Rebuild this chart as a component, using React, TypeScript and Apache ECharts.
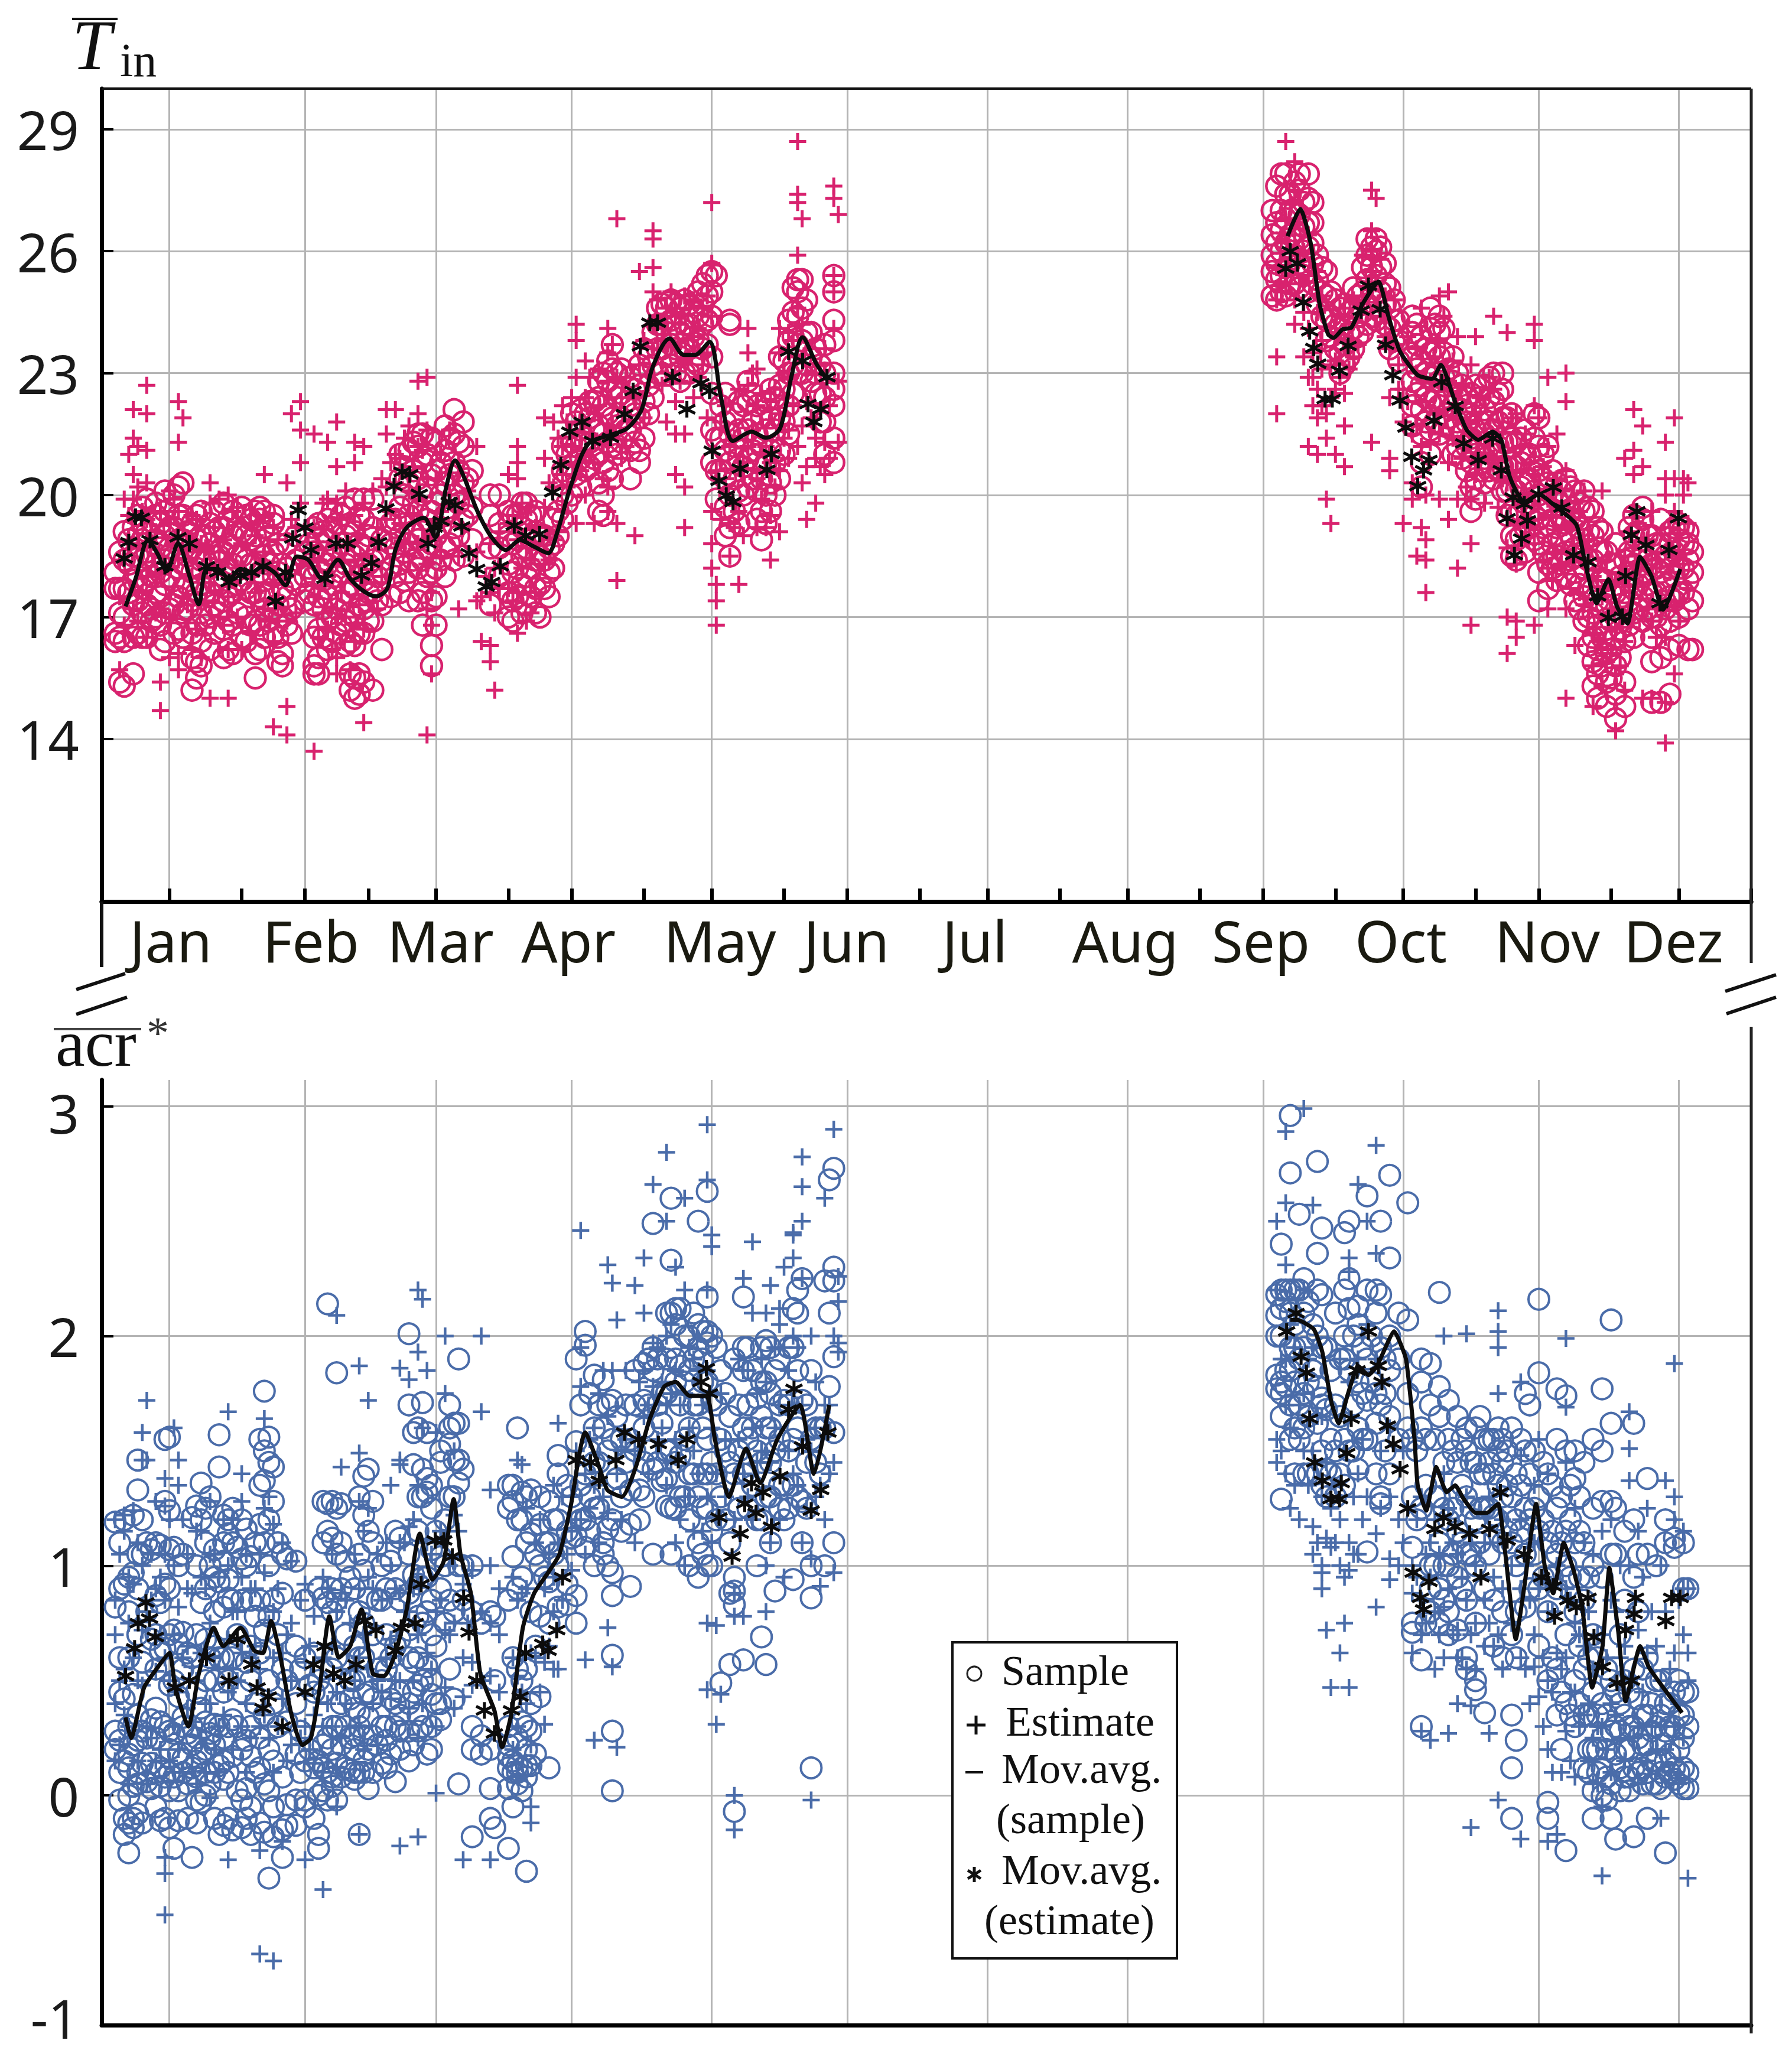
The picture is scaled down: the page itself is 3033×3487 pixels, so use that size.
import React, { useEffect, useRef } from "react";
import * as echarts from "echarts";

const monthNames = ["Jan", "Feb", "Mar", "Apr", "May", "Jun", "Jul", "Aug", "Sep", "Oct", "Nov", "Dez"];
const midMonthDays = [15, 45, 74, 104, 135, 165, 196, 227, 257, 288, 318, 349];
const monthStartDays = [31, 59, 90, 120, 151, 181, 212, 243, 273, 304, 334, 365];
const monthLabelDays = [15.3, 46.3, 75, 103.3, 136.8, 164.8, 193.2, 226.5, 256.5, 287.5, 319.9, 347.8];
const tinTicks = [14, 17, 20, 23, 26, 29];
const acrTicks = [-1, 0, 1, 2, 3];

// rows: [day, value, value, ...]
const tinSample: number[][] = [
[3,16.4,16.6,17.7,18.1],[4,15.4,16.5,17.1,17.7,18.6],[5,15.3,16.4,17,17.7,18.4,19.1],[7,15.6,16.5,17.3,17.9,18.5,19.2],[8,16.6,17.4,18,18.5,19,19.5],[9,16.5,17.1,17.7,18.4,18.9,19.3,19.7],[10,16.5,17.3,17.9,18.6,19.1,19.9],[12,17,17.6,18.3,18.9,19.5,19.8],[13,16.2,16.8,17.5,18.1,18.7,19.3],[14,16.4,17.1,17.8,18.4,19,19.6,20.1],[16,16.6,17.3,17.9,18.5,19.2,20],[17,16.7,17.5,18.2,18.9,19.5,20.2],[18,16.5,17.1,17.7,18.3,18.9,19.5,20.3],[20,15.2,16,16.6,17.4,18.1,18.7,19.3],[21,15.5,15.9,16.8,17.6,18.2,18.9,19.5],[22,15.8,16.4,17.1,17.8,18.4,19,19.6],[24,16.2,17,17.6,18.2,18.8,19.3],[25,16.6,17.3,17.9,18.5,19.1,19.6],[27,16,16.7,17.4,18,18.6,19.2,19.8],[28,16.2,16.9,17.5,18.2,18.8,19.4],[29,16.1,16.8,17.6,18.3,19,19.6],[31,16.5,17.2,17.9,18.5,19.1,19.7],[32,16.4,17,17.7,18.4,19,19.5],[34,15.5,16.1,16.9,17.6,18.3,19,19.6],[35,16.2,16.8,17.5,18.1,18.7,19.4,19.7],[36,16.5,17.2,17.9,18.5,19.2,19.6],[38,16.6,17.2,18,18.6,19.3,19.5],[39,15.9,16.5,17.3,18.1,18.8],[40,15.8,16.1,17,17.7,18.3],[42,16.6,17.2,17.9],[46,17.6,18.2,18.8],[47,15.6,15.8,16.5,17.3,18,18.6,19.2],[48,15.6,16,16.7,17.5,18.2,18.9,19.3],[50,16.2,16.9,17.5,18.3,18.9,19.4],[51,16.4,17,17.8,18.5,19.2,19.6],[53,16.8,17.4,18.1,18.8,19.5],[54,16.3,16.9,17.6,18.3,19,19.7],[55,15.2,15.6,16.4,17.1,17.8,18.6,19.3],[56,15,15.5,16.3,17,17.7,18.5,19.1,19.9],[57,15.1,15.6,16.6,17.3,18,18.8,19.5],[58,15.4,16.6,17.2,17.9,18.7,19.4,19.9],[60,15.2,16.9,17.6,18.4,19.2,19.9],[62,16.2,17.3,18.1,18.9],[64,17.5,18.2,18.8,19.3],[66,17.6,18.3,19,19.7,20.4,21],[68,17.4,18.1,18.8,19.5,20.3,21.1],[70,17.4,18.2,18.9,19.6,20.4,21.2,21.5],[71,16.8,17.6,18.4,19.1,20,20.8,21.5],[73,15.8,16.3,17.4,18.1,18.8,19.6,20.5,21.4],[74,16.8,17.5,18.2,19,19.8,20.6,21.3],[76,18,18.7,19.5,20.3,21.1,21.7],[78,18.4,19.2,20,20.8,21.5,22.1],[80,18.5,19.4,20.3,21.2,21.8],[82,18.9,19.7,20.6],[86,17.3,18.7,19.5,20],[88,18,18.7,19.3,20],[90,17,17.6,18.3,19,19.6],[91,16.9,17.4,18.1,18.8,19.5],[93,17.1,17.8,18.5,19.2,19.8],[94,17.3,18,18.7,19.4,19.8],[96,17.1,17.7,18.4,19.1,19.6],[97,17,17.8,18.5,19],[99,17.5,18.1,18.7],[100,18.2,18.8,19.4],[102,19.4,20,20.6,21.2],[104,20,20.7,21.3,22],[106,20.2,20.9,21.6,22.1],[108,20.7,21.3,21.9,22.3],[110,19.6,20.3,21,21.7,22.4,22.8],[111,19.5,20,20.8,21.5,22.2,23],[113,20.4,21.2,21.9,22.6,23.1,23.7],[115,21.3,21.9,22.5,23.1],[117,20.4,21.1,21.6,22.2,22.9],[119,20.8,21.1,21.9,22.7,23.2],[120,21.4,22.3,23,23.6],[122,22.4,23.2,24],[124,23,23.6,24.2,24.7],[126,23.2,23.7,24.3,24.8],[128,22.8,23.4,24,24.6],[130,23,23.6,24.2,24.7],[132,23.2,23.8,24.4,25],[133,23.6,24.2,24.7,25.2],[134,23.7,24.3,24.9,25.4],[135,20.8,21.6,22.5,23.4,24.4,25,25.5],[136,19.9,20.6,21.4,25.4],[138,19,19.7,20.4,21.1,21.8,22.5],[139,18.5,19.2,20,20.8,21.5,24.2,24.3],[141,19.3,20.1,20.9,21.6,22.3],[143,20.2,20.9,21.6,22.3,22.8],[145,19.4,20.1,20.8,21.5,22.2],[146,18.9,19.6,20.4,21.2,21.9],[148,19.6,20.3,21.1,21.9,22.6],[150,20.4,21.1,21.9,22.7,23.4],[152,21.5,22.2,23,23.8,24.3],[153,22.5,23.2,23.9,24.5,25.1],[154,23,23.7,24.4,25,25.3],[155,23,23.8,24.6,25.3],[156,23.2,24,24.8],[158,22.5,23,23.6],[160,21,21.8,22.4,23,23.7],[162,20.8,21.4,22.2,22.6,23,23.8,24.3,25,25.4],
[259,24.9,25.5,25.9,26.4,27],[260,24.8,25.3,25.7,26.2,26.7,27.6],[261,25,25.4,26,26.5,27,27.9],[262,24.9,25.6,26.2,26.8,27.4,27.9],[264,25.2,25.9,26.5,27,27.7],[265,25.1,25.7,26.3,26.9,27.5,27.9],[267,25,25.5,26.1,26.7,27.3,27.9],[268,25.2,25.7,26.2,26.7,27.2],[269,24.7,25.3,25.9],[271,23.8,24.3,24.9,25.5],[272,23.4,23.9,24.4,25],[274,23,23.5,24.1,24.6],[275,23.2,23.7,24.2,24.7],[277,23.6,24.1,24.6,25.1],[279,24,24.5,25,25.6],[280,24.2,24.7,25.3,25.9,26.3],[282,24.3,24.8,25.4,26,26.3],[284,24.2,24.7,25.2,25.7],[285,23.6,24.1,24.6,25.1],[287,23.3,23.8,24.3],[290,21.7,22.2,22.8,23.4,24,24.4],[292,20.2,20.8,21.5,22.1,22.7,23.3,23.9],[294,21,21.6,22.3,22.9,23.5,24.1,24.6],[296,21.5,22.2,22.8,23.4,24,24.4],[297,21.7,22.3,22.9,23.5,24.1],[299,21,21.6,22.2,22.8,23.4],[301,20.9,21.5,22.1,22.7],[303,19.6,20.2,20.8,21.4,22,22.5],[304,19.9,20.4,21,21.6,22.2,22.7],[306,20.3,20.9,21.5,22.1,22.7],[308,20.4,21,21.6,22.3,23],[310,20.1,20.7,21.3,21.9,22.6,23],[312,18.5,19,19.6,20.2,20.8,21.4,22],[313,18.4,18.9,19.5,20.1,20.7,21.3],[315,18.6,19.2,19.8,20.4,21,21.6],[317,18.9,19.5,20.1,20.7,21.4,22],[318,17.4,18.1,18.8,19.4,20,20.6,21.2,21.9],[320,17.7,18.3,19,19.7,20.3,21.2],[322,17.9,18.5,19.2,19.9,20.3],[324,18,18.6,19.3,19.9,20.4],[326,17.4,18.1,18.7,19.4,20.1],[328,16.9,17.5,18.2,18.9,19.6,20.1],[330,15.3,15.9,16.5,17.1,17.7,18.4,19,19.6],[331,15,15.6,16.2,16.8,17.4,18,18.7,19.2],[333,14.8,15.4,16.1,16.7,17.3,17.9,18.6],[335,14.5,15.1,15.8,16.5,17,17.6,18.3,18.8],[337,14.8,15.4,16.4,17,17.6,18.4],[339,16.5,17.1,17.7,18.3,19,19.5],[341,16.9,17.5,18.1,18.7,19.4,19.7],[343,14.9,15.9,16.5,17,17.6,18.3,19],[345,14.9,16,16.8,17.4,18.1,18.8,19.4],[347,15.1,16.2,16.9,17.5,18.2,18.8,19.1],[349,16.3,17,17.6,18.2,18.9,19.3],[351,16.2,17.2,17.9,18.4,18.8,19.1],[352,16.2,17.4,18.1,18.6],
[6,17.6,18.3,18.9],[11,18,18.5,17.2,16.9],[15,17.2,18,18.7,19.2],[19,17.2,17.8,18.5,19.1],[23,16.8,17.6,18.4,19],[26,17.1,17.8,18.5,19.2],[30,17.1,17.8,18.5,19.2],[33,16.8,17.6,18.3,18.9,19.4],[37,16.9,17.6,18.3,19],[41,16.8,17.5,18.2,18.8],[43,17.8,18.4,19],[45,17.4,18,18.6],[49,16.5,17.2,17.9,18.6,19.1],[52,16.6,17.2,18,18.7,19.3],[59,16.9,17.6,18.3,19],[61,17.4,18,18.6],[65,18,18.7,19.4],[67,17.9,18.6,19.3,20,20.7],[69,18.4,19.1,19.8,20.6,21.3],[72,18,18.7,19.4,20.2,21],[75,18.4,19.2,20,20.8],[77,18.8,19.6,20.5,21.4],[79,19,19.8,20.6,21.3],[81,19.5,20.4],[92,17.5,18.2,18.9,19.5],[95,17.5,18.2,18.9,19.5],[98,17.7,18.4,19],[101,19,19.6],[103,19.8,20.5,21],[105,20.5,21.2,21.8],[107,20.6,21.3,22],[109,20.9,21.6,22.3],[112,20.6,21.3,22,22.8,23.3],[114,21,21.7,22.4,23],[116,21.6,22.3],[118,21.3,22,22.6],[121,22,22.7,23.4],[123,23,23.6,24.2,24.6],[125,23.4,24,24.6],[127,23,23.6,24.2,24.7],[129,23,23.6,24.2,24.8],[131,23.3,23.9,24.5],[137,20.6,21.4,22.2],[140,19.6,20.4,21.2,22],[142,20,20.7,21.4,22.2],[144,20.4,21.1,21.8,22.5],[147,19.3,20,20.8,21.6,22.3],[149,20,20.8,21.6,22.4],[151,21,21.8,22.6,23.3],[157,22.8,23.4,24],[159,21.8,22.5,23.2],
[263,25.2,25.8,26.4,27,27.4],[266,25.4,26,26.6,27.2],[270,24.4,25,25.6],[273,23.6,24.2,24.8],[276,23.4,24,24.5],[278,23.9,24.4,24.9],[281,24.4,25,25.6,26.1],[283,24.5,25,25.6,26.1],[286,23.8,24.3,24.8],[291,22.5,23.1,23.7,24.2],[293,21.8,22.4,23,23.6],[295,21.8,22.4,23,23.6,24.2],[298,21.9,22.5,23.1],[300,21.2,21.8,22.4,23],[302,20.6,21.2,21.8,22.4],[305,20.6,21.2,21.8,22.4],[307,20.6,21.2,21.8,22.4,22.9],[309,20.6,21.2,21.8,22.5],[311,19.5,20.1,20.7,21.3,21.9],[314,19,19.6,20.2,20.8,21.4],[316,19.2,19.8,20.4,21],[319,18.6,19.2,19.8,20.4,21],[321,18.2,18.8,19.4,20,20.6],[323,18.3,18.9,19.5,20.1],[325,17.8,18.4,19,19.6,20.2],[327,17.2,17.8,18.5,19.2,19.8],[329,16.3,17,17.7,18.4,19.1,19.7],[332,15.8,16.5,17.2,17.9,18.6,19.1],[334,15.5,16.2,16.9,17.6,18.3],[336,16,16.7,17.3,18],[338,16.8,17.4,18,18.6,19.2],[340,17.2,17.8,18.4,19.1],[342,17.2,17.8,18.4,19],[344,17,17.6,18.2,18.8],[346,17.2,17.8,18.5],[348,17.4,18,18.6,19.2],[350,17.6,18.2,18.8,19.2]];

const tinEstimate: number[][] = [
[4,15.7,17.5,18.4],[6,21,18.9,19.5],[7,22.1,21.4,20.5,19.9,17.2],[8,21.2,20.2,18.8,16.9],[10,22.7,22,21.1,20.3,19.4,18,16.5],[13,14.7,15.4,17.2,18.5,19.6],[15,16,17,18.2,19.3,20.1],[17,22.3,21.3,16.1,15.7,19.6,18.4],[18,21.9,17.5,19],[20,19.5,18,16.2],[22,18.8,17.3,16],[24,20.3,15,19.8,18.2],[26,19.9,18.6,17],[28,15,20,18.4,17.5,16.2],[30,19.7,18.2,17],[33,19.3,18,16.6],[36,20.5,19.5,18.6,17.2],[38,14.3,19.2,17.8,16.4],[41,14.1,14.8,20.3,18,16.9],[42,22,19.4],[44,22.3,21.6,20.8,19.8,18.3],[47,13.7,21.5,19.2,17.5],[50,21.3,19.9,18,16.7],[52,21.8,20.7,15.6,19.8,17.2,16],[54,20.1,18.7,17],[56,21.3,20.8,19.5,18.4,16.4],[58,14.4,21.2,19.8,17.9,16.7],[61,18.8,19.2,17.2],[63,22.1,21.5,20.2,19.4],[65,22.1,21,20.3,18.7],[68,21.7,20.1,18.5],[70,22.8,22,21.2,19.9,18.8],[72,22.9,14.1,21.6,20.4,18.3,17.2],[73,15.6,16.8,17.6,19],[75,21,19.6,18.5],[79,17.2,18.5,19.8,20.8],[83,17.4,18.6,21.2],[84,16.4,17.5],[86,15.9,16.3,17.6,18.8],[87,15.2,17.1,18.2],[90,20.5,19.3,17.7],[92,22.7,21.2,20.8,20.4,16.6,17.6,18.9],[95,19.7,18.4,17.1],[98,21.9,20.9,19.7,18.3],[100,21.8,20.2,18.9],[102,22.2,21.2,20.5,19.6],[105,24.2,23.8,22.9,21.6,19.3,20.8],[107,23.3,22.4,21,20],[109,19.3,22,20.8],[112,24.1,23.5,22.8,21.4,20.2,19.6],[114,26.8,17.9,19.3,22.9],[118,19,22.4],[119,25.5,23.2],[122,26.5,26.3,25.6,25,24.2],[125,21.8,23,24.6],[127,24.5,21.5,20.5,22.3],[129,21.5,20.2,19.2,24.9,23.3],[131,24.8,23.9,22.4],[134,24.9,23.5,21.9],[135,27.2,25.7,18.8,18.2,19.6,24.4],[136,17.8,17.4,16.8,20.6],[139,18.5,19.3,21.2],[141,17.8,19.6,20.7,22.6],[143,24.1,23.5,22.7,21.2],[145,19.2,20.4,22.2,23.1],[148,18.4,19.5,20.8,22.3],[150,24.1,23.5,19.1,20.6,22],[152,24,22.9,20.9,21.6],[154,28.7,27.4,27.2,25.9,24.6,23.4,21.2],[155,26.8,20.3,21.7,24.2],[156,19.4,20.7,22.3],[158,19.8,20.9,21.4,23],[160,20.5,21.3,23.6],[162,27.6,27.3,25.4,25,24.1],[163,26.9,21.3,22.8],
[260,23.4,22,25.6,24.8],[262,28.7,26.8,25.2],[264,28.2,24.2,24.8,26.4,27.5],[266,24.5,23.4,26],[267,22.9,21.2,24.1],[268,22.2,22.9,23.5],[269,21,22.6,21.9],[270,22.2,23.1],[271,19.9,22,21.4],[272,19.3,22.4,23.2],[273,21,22.6],[275,21.7,22.5,20.7,23.8,24.6],[277,24.8,23.4],[281,27.5,26.5,26,21.3,25.5],[282,27.3,25.2],[284,23.9,24.9],[285,20.9,20.6,22.4,23.6],[288,19.3,21.8,22.6],[290,20.3,19.9,21.5],[291,18.5,23],[292,19.2,24.6,21.2],[293,18.9,18.4,17.6,20,22.3],[296,24.9,23.8,21.5,19.9],[298,19.4,25,22.8,20.8],[300,18.2,23.9,21.9,19.9],[303,16.8,18.8,19.9,21.5,23.2],[304,23.9,22,20.5],[308,24.4,22.6,20.9],[309,21.5,19.7],[311,24,17,20.3,18.7,16.1],[313,16.9,16.5,18.3,20.6,22],[315,19.3,21.5],[317,16.8,24.2,23.8,18.8,20.5,22.2],[320,22.9,17.2,19.9,18.2,21.2],[322,21.5,18.6,20.4],[324,23,22.3,15,17.2,19.2,20.6],[326,16.3,18.4,19.8],[328,17.3,20.1,18.9],[330,14.8,15.8,16.6,18],[332,20.1,15.3,16.2,17.5],[335,14.2,15.6,16.7,17.9],[337,20.9,15.2,16.4,18.5],[339,22.1,21.1,20.5,19.6,18.7],[341,21.7,20.7,15,17.8],[343,19.6,18.4,15,16.9],[346,21.3,20.4,20,13.9,14.9,16.5,18.6],[348,21.9,20.4,15.6,17.3,19.6],[350,20.4,20,18.3],[351,20.3,19.3,17.7],
[5,16.8,19.9],[9,17.6,19.6],[12,17.1,18.1,19.1],[16,18.8,19.9],[19,17.3,18.6],[21,16.7,19.4],[23,18.7,17.4],[25,17.6,19.2],[27,16.8,18.9],[29,17.9,19.6],[31,16.2,18.8],[34,17.6,19],[37,18.2,16.9],[39,18.9,17.2],[43,17.1,19.2],[48,16.5,18.4],[49,19.8,17.1],[51,18.3,16.2],[53,19.4,17.6],[55,18.1,15.7],[57,19,17.3],[60,20.1,18.3],[62,18,20.4],[64,19.6,20.8],[66,20.9,19.3],[67,21.4,18.8],[69,20.7,19.5],[71,21.1,18.9],[74,20.4,19.4],[77,21.6,20],[81,20.1],[85,18],[88,19.1,17.7],[91,17.4,19.5],[93,18.2,19.8],[94,16.9,18.7],[96,19.2,17.6],[99,20.3,18.4],[101,19.1,21.4],[103,20.2,21.8],[104,21.2,22.4],[106,21.8,20.6],[108,21.5,22.9],[110,22.2,23.1],[111,21.3,20.4],[113,21.7,23.7],[115,22.4,20.9],[116,21.2,22.9],[120,21.9,23.8],[123,23.6,24.8],[124,22.7,24.1],[126,23.7,25],[128,24.2,22.8],[130,23.4,24.6],[132,24.1,22.9],[133,24.6,23.2],[137,21.8,19.4],[138,20.4,22.2],[140,21.4,19.2],[142,20.8,19],[144,21.6,23],[146,19.9,22.5],[147,21.2,19.2],[149,20.2,22.6],[151,23,21.4],[153,23.8,22.2],[157,23.6,21.9],[159,23.2,20.7],[161,22.2,20.9],
[261,26.3,25],[263,27.2,25.8],[265,26.7,25.2],[267,25.4,26.4],[269,24.5,25.5],[270,23.8,24.9],[273,24,23.3],[274,24.6,22.9],[276,24.2,23.1],[278,24.6,23.7],[279,24.9,25.9],[283,25.8,24.4],[286,23.7,24.8],[287,23.2,22.6],[289,22.3,23.9],[291,21.7,23.6],[294,22.8,21.3],[295,23.4,22],[297,24.4,22.1],[299,23.3,21.4],[301,22.7,20.9],[302,21.8,20.2],[305,20.8,22.4],[306,21.4,19.8],[307,22.9,21],[310,21.8,20.4],[312,21.9,20.6],[314,19.9,21.2],[316,20.8,19.2],[318,21.9,19.4],[319,20.7,18.4],[321,19.5,17.9],[323,20.1,18.3],[325,19.3,17.7],[327,19.6,17.6],[329,18.9,17],[331,17.9,16.4],[333,18.4,15.9],[334,17.2,16.1],[336,18.1,15.8],[338,17.6,19.1],[340,18.3,19.3],[342,18.9,17.2],[344,18.2,16.5],[347,18.1,19.2],[349,18.5,16.9]];

const tinAvgSample: number[][] = [[5.3,17.26],[7.5,17.94],[10.3,18.89],[12.3,18.57],[14.4,18.13],[16.9,18.81],[19.4,18.02],[21.5,17.31],[23.2,18.18],[25.7,18.18],[28.2,17.94],[30.7,18.18],[33.2,18.1],[35.7,18.25],[38.2,18.1],[40.7,17.78],[43.2,18.49],[45.7,18.41],[48.8,17.94],[52.3,18.41],[55,17.94],[58.2,17.62],[60.7,17.51],[63.2,17.7],[65,18.65],[67.5,19.2],[71.3,19.44],[73.8,18.96],[76.3,20.22],[78.2,20.85],[80.1,20.46],[83.2,19.59],[86.3,18.96],[89.4,18.65],[92.6,18.89],[95.7,18.73],[98.8,18.57],[100.7,19.04],[103.8,20.22],[107.6,21.25],[112.6,21.48],[116.3,21.64],[119.5,22.11],[121.9,23.14],[125.7,23.85],[128.8,23.45],[131.3,23.45],[134.5,23.77],[137,22.43],[139.7,21.33],[143.8,21.56],[147,21.41],[150.1,21.64],[152.6,22.9],[155.1,23.88],[158.2,23.22],[160.7,22.82]];
const tinAvgSampleFall: number[][] = [[262.4,26.37],[265.2,27.04],[267.5,26.21],[269.5,24.7],[271.4,23.95],[272.6,23.87],[274.6,24.08],[276.5,24.12],[279,24.7],[282.5,25.25],[284.8,24.37],[287.3,23.53],[291.2,22.95],[294.4,22.86],[296.3,23.2],[299.5,22.28],[302,21.61],[304.6,21.36],[307.8,21.56],[309.7,21.36],[311.6,20.44],[314.8,19.82],[318,20.02],[321.2,19.77],[326.3,19.27],[328.2,18.35],[330.8,17.34],[333.4,17.93],[335.3,17.26],[337.6,16.84],[340.4,18.48],[342.9,18.01],[345.5,17.18],[349.3,18.18]];
const tinAvgEstimate: number[][] = [[5,18.44],[6,18.84],[7.5,19.47],[8.8,19.44],[10.7,18.89],[14,18.25],[16.9,18.96],[19.4,18.81],[23.2,18.25],[25.7,18.1],[28.2,17.86],[30.7,18.02],[33.2,18.1],[35.7,18.25],[38.5,17.39],[40.7,18.1],[42.3,18.93],[43.5,19.63],[45,19.2],[46.3,18.65],[49.4,17.94],[51.9,18.81],[54.4,18.81],[57.5,18.02],[59.7,18.33],[61.3,18.84],[62.9,19.67],[64.7,20.22],[66.5,20.57],[68.2,20.51],[70.3,20.03],[72.2,18.81],[73.6,19.2],[75.1,19.36],[76.9,19.83],[78.2,19.75],[79.7,19.23],[81.3,18.57],[83,18.18],[85.1,17.75],[86.3,17.86],[88.2,18.25],[91.3,19.25],[93.8,19],[96.9,19.04],[99.8,20.07],[101.6,20.74],[103.6,21.56],[106.3,21.8],[108.6,21.33],[112.6,21.41],[115.7,21.99],[117.6,22.56],[119.2,23.66],[121.3,24.24],[123,24.24],[126.3,22.9],[129.5,22.11],[132.6,22.75],[134.5,22.56],[135.1,21.09],[136.6,20.35],[138.2,19.99],[139.7,19.83],[141.3,20.65],[147.2,20.62],[148.2,21.01],[152,23.53],[155.1,23.3],[156.3,22.24],[157.6,21.8],[159.1,22.11],[160.5,22.9],
[262,25.57],[263,26],[264.6,25.7],[265.9,24.74],[267.3,24.03],[268.2,23.62],[269.1,23.23],[270.7,22.36],[272.3,22.36],[273.9,23.06],[275.8,23.67],[278.7,24.54],[280.3,25.15],[282.9,24.57],[284.1,23.7],[285.7,22.95],[287.3,22.33],[288.6,21.66],[289.9,20.94],[293.7,20.86],[292.5,20.61],[291.2,20.22],[294.8,21.83],[296.5,22.78],[299.5,22.19],[301.4,21.27],[304.6,20.86],[307.8,21.39],[309.7,20.61],[312.3,19.94],[314.8,19.77],[318,20.02],[321.2,20.19],[323.1,19.69],[311,19.43],[315.5,19.38],[314.2,18.93],[312.6,18.52],[325.7,18.52],[328.9,18.35],[331,17.51],[333.4,16.98],[336.5,17.01],[337.2,18.01],[338.5,19.02],[339.7,19.6],[341.7,18.77],[344.8,17.34],[346.8,18.65],[348.9,19.43]];

const acrSample: number[][] = [
[3,1.19,.82,.28,.2],[4,1.1,.6,.24,.1,-.02],[5,1.2,.92,.42,.15,-.1,-.17],[6,.95,.6,.3,.12,0,-.12,-.25],[7,1.22,.97,.44,.22,.04,-.1,-.14],[8,1.46,1.33,1.05,.7,.24,.05,-.08],[9,1.2,1.05,.58,.28,.14,-.12],[11,1.07,.68,.33,.14,.03],[12,1.1,.87,.55,.25,.1],[13,1.09,.84,.63,.32,.12,.04,-.11],[14,1.55,1.28,.92,.64,.3,.08,-.1],[15,1.56,1.24,1.07,.9,.48,.28,.1,-.14],[16,1.08,.72,.5,.27,.08,-.23],[17,1,.66,.43,.18,.02,-.11],[18,.71,.34,.3,.16],[19,.62,.27,.05,-.1],[20,1.21,.6,.3,.22,.12,-.27],[21,1.26,.7,.45,.25,-.02,-.12],[22,1.36,1.2,.84,.38,.18,-.03],[23,1.25,.9,.68,.32,.2,0],[24,1.3,1,.6,.27,.25,.05],[25,1.07,.8,.5,.31,.1,-.1],[26,1.57,1.43,.93,.6,.3,.13,-.17],[27,1.1,1.02,.82,.45,.25,.07,-.13],[28,1.2,1.14,.94,.86,.5,.3,.1,-.1],[29,1.25,1.1,.85,.6,.33,.17,-.15],[31,1.2,1.03,.85,.45,.2,-.02,-.14],[32,1.16,1,.58,.24,.03,-.1],[33,1.04,.65,.5,.17,-.05,-.17],[35,1.55,1.35,1.18,.85,.62,.25,.12,-.12],[36,1.76,1.5,1.37,1.1,.72,.35,.05,-.16],[37,1.56,1.45,1,.5,.2,.02,-.36],[38,1.43,1.28,.85,.4,.15,-.05,-.18],[40,1.05,.88,.55,.08,-.27,-.15],[41,1.03,.5,.32,-.04,-.13],[43,1.02,.65,.4,.18,-.02,-.13],[45,.85,.6,.15,-.02,-.05],[47,.62,.45,.12,-.1],[48,.9,.5,.15,0,-.17,-.23],[49,1.28,1.1,.86,.55,.22,.02],[50,2.14,1.27,1.15,.84,.25,.1,-.02],[51,1.28,1.12,.9,.8,.3,.2,.04],[52,1.84,1.25,1.05,.85,.6,.3,.14,-.02],[53,1.27,1.1,.9,.4,.22,.08],[55,.95,.5,.42,.25,.11],[56,.9,.5,.38,.26,.1,.07],[57,1.3,1.05,.8,.6,.36,.3,.1,-.17],[58,1.39,1.22,.98,.75,.44,.26,.1],[59,1.42,1.15,.86,.45,.34,.2,.03],[60,1.28,1.1,.7,.42,.26,.1],[62,1,.85,.5,.3,.14],[63,.9,.7,.55,.3,.24,.12],[65,1.15,.9,.65,.4,.3,.06],[66,1.12,.68,.45,.28,.2],[68,2.01,1.7,1.05,.72,.6,.4,.15],[69,1.58,1.44,.96,.58,.45,.22],[70,1.6,1.3,1.15,.92,.6,.35,.28],[71,1.71,1.42,1.3,.95,.75,.5,.3],[72,1.58,1.38,1.32,.95,.8,.56,.18],[73,1.35,1.25,1.07,.85,.5,.44,.2],[75,1.5,1.45,1.04,.9,.4,.33],[77,1.7,1.6,1.53,1.3,.85,.55],[78,1.62,1.46,1.3,.8,.42],[79,1.9,1.62,1.46,1.36,1,.05],[80,1.42,1,.85],[82,1,.8,-.18,.3,.2],[84,.75,.18,.26],[86,.8,.03,-.1,.2],[87,.78,.5,-.14],[90,1.35,1.25,.85,.17,.12,-.23,.03],[91,1.35,1.28,1.04,.6,.15,.1,-.05],[92,1.6,1.2,.9,.55,.1,.13],[93,1.32,1.2,.95,.5,.32,.12,.02],[94,1.3,1.1,.55,.3,.13,-.33],[95,1.33,1.14,.8,.4,.28,.13],[97,1.3,1.18,1,.78,.43],[99,1.28,1.1,.93,.75,.12],[101,1.48,1.4,1.2,1,.82],[103,1.35,1.15,.83,.92],[105,1.9,1.54,1.13,.87,.75],[107,2.02,1.96,1.4,1.2,1.08],[109,1.83,1.6,1.45,1.25,1],[111,1.81,1.6,1.1,1.05],[112,1.7,1.5,1.16,1],[113,1.72,1.55,1.2,.97,.87,.61,.28,.02],[115,1.55,1.3,1.15],[117,1.55,1.33,1.18,.91],[119,1.33,1.2],[120,1.88,1.72,1.45],[122,2.49,1.95,1.85,1.42,1.05],[124,1.75,1.62,1.37],[125,2.1,1.9,1.5,1.26],[126,2.6,2.33,2.1,1.95,1.5,1.25,1.05],[127,2.12,2.05,1.9,1.8,1.45,1.25],[128,2.12,1.87,1.7,1.48,1.3],[130,2,1.85,1.6,1.4,1.2,1],[132,2.5,2.05,1.95,1.7,1.3,1.1,.95],[133,2.02,1.9,1.6,1.4,1.05],[134,2.63,2.17,2.02,1.97,1.55,1.25,1],[135,2,1.72,1.45,1.15,1],[137,1.85,1.55,1.3,.49],[139,1.65,1.45,1.1,.88,.57],[140,1.9,1.4,.95,.89,-.07,.83],[142,2.17,1.95,1.85,1.6,1.4,.59],[143,1.95,1.7,1.4],[145,1.73,1.5,1.2,1],[146,1.65,.69],[147,1.98,1.8,1.6,1.3,.57],[148,1.95,1.75,1.45,1.1],[149,1.85,1.5,.89],[150,1.9,1.7,1.35],[151,1.72,1.35,1.2],[153,2.12,1.95,1.55,1.35,.94],[154,2.2,2.1,1.85,1.6,1.3],[155,2.25,1.72,1.28,1.1],[157,1.85,1.55,1,.86,.12],[158,1.6,1.45],[160,2.24,1.6,1],[161,2.68,2.1,1.78],[162,2.73,2.3,2.24,1.91,1.58,1.1],
[260,2.18,2.09,2,1.83,1.77],[261,2.2,2.12,1.8,1.75,1.29,2.4],[262,2.2,2.15,1.85,1.78],[263,2.96,2.71,2.2,2.1,1.85,1.7,1.55],[264,2.2,2.05,1.8,1.4],[265,2.53,2.2,1.9,1.7,1.55],[266,2.25,1.95,1.75,1.4],[267,2.15,1.8,1.65,1.4],[269,2.76,2.36,2.2,2,1.78,1.62,1.4],[270,2.47,2.18,1.73,1.5,1.35],[271,1.95,1.68,1.42,1.3],[273,2.1,1.7,1.5,1.3],[275,2.45,2.2,2,1.9,1.55,1.35],[276,2.5,2.25,2.12,1.85,1.5],[278,2.13,2.05,1.8,1.6,1.42],[280,2.61,2.2,1.9,1.72,1.55,1.06],[282,2.2,2.1,1.75,1.62,1.4],[283,2.5,2.18,1.95,1.7,1.27,1.3],[285,2.7,2.34,2,1.85,1.65,1.4],[287,2.1,1.9,1.55],[289,2.58,2.07,1.75,1.6],[290,1.55,1.08,.71,.75,1.3],[292,1.9,1.8,1.6,1.25,.59,.3],[294,1.88,1.7,1,.9,.8],[296,2.19,1.78,1.65,1.3,1.1,.9,.75],[298,1.72,1.55,1.2,1,.8,.7],[300,1.65,1.45,1.15,.95,.72],[302,1.6,1.5,1.3,1.05,.85,.6,.55],[304,1.6,1.45,1.2,1,.75,.5,.46],[306,1.55,1.4,1.25,.9,.36],[308,1.55,1.4,1.22,.85,.65],[310,1.55,1.45,1.3,1.1,.8,.6],[312,1.6,1.3,1.1,.7,.35,.12,-.1],[313,1.4,1.2,1,.8,.6,.24],[315,1.75,1.5,1.25,1.05,.82],[316,1.7,1.4,1.2,.9],[318,2.16,1.84,1.3,1.15,.9,.65],[320,1.4,1.1,.8,.5,-.03,-.1],[322,1.77,1.55,1.25,1.05,.9,.55,.35],[324,1.74,1.5,1.15,1,.7,.4,-.24],[326,1.5,1.38,1.1,.8,.5,.3],[328,1.45,1.1,.85,.55,.35,.12],[330,1.55,1.25,1,.7,.45,.2,.02,-.1],[332,1.77,1.5,1.28,.95,.4,.25,.12,0],[334,2.07,1.62,1.28,1.05,.5,.28,.05,-.1],[335,1.25,1.05,.45,.3,.18,-.19],[337,1.15,.85,.5,.35,.2,.08],[339,1.62,1.2,.95,.55,.3,.12,-.18],[340,1.05,.8,.42,.25,.1],[342,1.38,1.05,.6,.35,.22,.1,-.1],[344,1,.5,.3,.15,.05],[346,1.2,1.1,.4,.28,.15,.08,-.25],[348,1.12,1.08,.45,.3,.12,.07],[350,1.1,.9,.45,.35,.25,.12,.03],[351,.9,.45,.3,.1,.03],
[4,.9,.45],[6,.8,.18],[8,.9,.35,.1],[10,1.1,.8,.25,.06],[12,.7,.38,-.05],[15,.7,.2,.02],[18,1.05,.55,.1],[21,1,.15,.08],[23,1.1,.5,.1],[25,.95,.65,.22],[27,1.22,.6,.15],[30,1.08,.7,.3,.02],[33,.85,.3],[34,1.1,.78,.4,.1],[37,1.2,.78],[39,1.1,.7,.3],[44,.55,.28,.1],[46,.48,.2],[49,.45,.12],[51,.55,.08],[54,1.02,.7,.3,.12],[56,.65,.2],[58,.6,.15],[61,.85,.55,.22],[64,1.02,.6,.42,.18],[66,.85,.35],[68,.88,.28],[70,.78,.48],[73,.7,.3],[74,1.15,.65,.4],[76,1.2,1,.75],[90,.3,.22],[92,.25,.05],[94,.2,.08],[96,1.05,.65,.18],[98,1.1,.95],[100,1.2,1.05],[104,1.3,1.12],[106,1.7,1.35,1.2],[108,1.75,1.5,1.3,1.15],[110,1.7,1.45,1.25],[114,1.65,1.38],[116,1.7,1.45],[118,1.85,1.7,1.5],[120,1.6,1.3],[121,1.9,1.7,1.5],[123,1.9,1.7,1.45],[125,1.75,1.38],[129,2,1.8,1.55,1.3],[131,2.1,1.9,1.7,1.4],[133,1.8,1.25],[134,1.8,1.4],[136,1.95,1.7,1.4,1.2],[138,1.75,1.5,1.2],[141,1.7,1.5,1.25],[143,1.55,1.25],[144,1.85,1.6,1.35],[146,1.95,1.8,1.45,1.2],[148,1.6,1.3],[150,1.55,1.25],[152,1.95,1.7,1.5,1.25],[156,1.7,1.45,1.25],[159,1.6,1.4],
[261,2,1.65],[263,1.95],[264,1.95,1.6],[266,2.1,1.6],[268,2.05,1.85],[270,1.95,1.7],[272,1.85,1.55,1.4],[274,1.9,1.65,1.4],[277,2,1.7,1.5],[279,1.95,1.75,1.55],[281,2,1.8],[284,1.9,1.75,1.5],[291,1.5,1.2],[293,1.55,1.35,.75],[295,1.55,1.3,1],[297,1.45,1.25,1,.85],[299,1.5,1.25,1.05],[301,1.55,1.35,1.1,.9],[303,1.45,1.25,1.05],[305,1.65,1.4,1.25,1.1],[307,1.55,1.45,1.25,1.05],[309,1.6,1.5,1.35,1.2],[311,1.5,1.35,1.15],[314,1.55,1.35,1.15],[317,1.5,1.25,1.05],[319,1.45,1.2,.95],[321,1.35,1.15,.95,.6],[323,1.3,1.1,.45,.2],[325,1.35,1.2,.95,.35],[327,1.3,1.15,.95,.65,.4],[329,.95,.6,.35,.2,.1],[331,.6,.35,.2,.1],[333,.55,.35,.2,.08,-.02],[336,.7,.4,.28,.12,.02],[338,.45,.3,.2,.08,.02],[341,.55,.35,.22,.12,.05],[343,.4,.28,.15,.05],[345,.5,.35,.22,.1,.03],[347,.4,.3,.18,.1],[349,.5,.35,.2,.1,.05]];

const acrEstimate: number[][] = [
[3,1.2,.85,.7,.4,.15],[5,1.22,1.15,.55,.35],[7,1.24,.92,.6,.28],[9,1.58,1.46,1,.72,.48],[10,1.72,1.46,.8,.3,.05],[12,1.28,.9,.54,.15],[14,1.38,1.26,1.05,.85,.6,-.52,-.34,-.27],[16,1.6,1,.7,.3,.1],[17,1.46,1.35,.82,.45,.2],[19,1.05,.9,.65,.38],[20,.88,.56,.32,.12],[22,1.15,.95,.62,.25],[24,1.28,1.05,-.01,.75,.4],[26,.95,.55,.3,.1],[28,1.67,1,.68,.45,-.28],[29,1.2,.8,.55,.2],[31,1.4,1.28,.95,.62,.3],[33,.9,.6,.25],[35,-.69,-.24,1.05,.55,.3],[36,1.64,1.25,.97,.35],[38,-.72,1.18,.8,.6,.1],[40,1.1,.62,.42,-.2],[42,1.02,.75,.5,.22],[45,.92,.58,.3,-.28],[47,.78,.35,.14],[49,-.41,.95,.6,.3,.1],[52,2.09,.8,.45,.12,-.05],[53,1.43,.88,.25],[55,.75,.55,.3],[57,1.87,1.49,1.28,.9,.6,.3,-.17],[59,1.72,1.25,.95,.55],[61,1.05,.5,.22],[64,1.35,1,.68,.42],[66,1.86,1.46,1.44,1.1,.88,.5,-.22],[68,1.81,1.17,.8,.38],[70,2.2,1.93,1.35,.95,.7,-.18,.25],[71,2.16,1.6,.4],[72,1.85,1.1,.62],[74,1.58,.01,.8,.3],[76,2,1.75,.72,.47],[78,1.5,1.22,.75,.38],[80,-.28,.92,.6,.43],[82,.98,.58,.48],[84,2,1.67,.8,.5],[86,1.33,1,.75,-.28,.52],[88,.9,.7,.45],[92,1.46,.85,.52,.3,.08],[93,1.44,.88,.45],[95,-.12,.62,.22,-.05],[98,.31,.9,.58],[100,1.35,.95,.8,.55],[101,1.62,1.1,.55],[104,1.3,1.15,.98],[106,2.46,1.95,1.78,1.2],[107,.59,1.4,1.05],[109,1.6,1.35,.24],[112,2.31,1.65,1.23,.73],[113,2.23,1.85,.56],[114,2.07,1.4,.21],[118,2.22,1.5,1.1],[120,2.34,2.1,1.85,1.65],[122,2.66,1.97,1.78],[125,2.8,2.5,2,1.7,1.35],[127,2.3,1.85,1.55,1.1],[129,2.6,2.2,1.75,1.3,1],[131,1.9,1.5,1.15],[134,2.92,2.68,2.2,1.85,.75,.46,1.3],[135,2.44,2.39,1.6,1.1],[136,.74,.31,1.4],[137,.44,1.2,1.75],[140,1.2,.88,.78,0,-.15],[142,2.25,1.85,1.4,.78],[144,2.41,2.1,1.6,1.2],[147,2.1,1.8,1,.8],[148,2.22,1.45,1.1],[150,2.12,2.05,1.7,1.2],[151,2.3,1.95,.95],[153,2.45,2.44,2.34,2,1.4],[155,2.78,2.65,2.5,2.25,1.7,1.1],[157,2,1.5,1.03,-.02],[159,1.35,.91],[160,2.6,1.7,1.2],[162,2.9,2,1.45,.97],[163,2.26,2.15,1.97,1.93],
[260,2.5,2.2,1.55,1.45],[262,2.89,2.58,2.31,1.9,1.7,1.4],[263,2.05,1.6,1.25],[266,2.99,2.2,1.75,1.5],[268,2.57,1.95,1.5,1.17,1.05],[270,.97,1.3,.9,1.65,1],[271,.72,1.12,1.45],[272,.47,1.08,1.25],[274,.62,1.9,1.2,1],[275,.75,1.65,.95],[276,2.34,2.28,.98,.47,1.1,1.8],[278,2.66,1.9,1.4,1.05],[280,2.5,2.05,1.3],[282,2.83,2.36,.82,1.14,1.9],[285,1.03,.94,1.3,1.6],[288,1.1,1.5],[290,1,.88,.62],[292,.28,.85,1.3,.7],[294,.24,.95,1.1],[297,2,1.4,.82,.6],[298,.27,1.25,.9],[300,.4,1.05,.72,.6],[302,2.01,1.3,.85,.55],[303,-.14,.39,1.1,.7],[307,.27,1.3,.75],[309,2.11,2.02,1.95,1.75,-.02,1.1,.7],[314,1.8,1.48,-.19,1.2,.9,.6],[317,.56,1.35,1.1,.7],[318,1.55,.43,.9],[320,-.2,1.4,.8,.5,.2],[322,-.17,1,.62],[324,1.99,1.69,1.45,.9,.6,.28],[326,.08,1.25,.75,.45],[328,1.1,.65,.35],[330,1.05,.55,.25,.05],[332,-.35,1.15,.7,.3,-.05],[334,1.2,.85,.4,.1],[336,1,.6,.25],[338,1.67,1.51,1.37,1,.5],[340,1.15,.72,.3,.05],[342,1.25,.62,.15],[345,-.1,1,.5,.3],[346,1.37,.8,.2],[348,1.88,1.3,1.2,.62,.3],[350,1.15,.9,.7,.25],[351,.62,-.36,.9,.5],
[4,1.05,.5,.22],[6,.95,.75,.3,.05],[8,1.1,.5,.15],[11,1.05,.85,.25],[13,.95,.7,.2],[15,1.2,.5,.15],[18,1.2,.6,.1],[21,1.15,.5,.05],[23,.9,.4,.1],[25,1.05,.6,.2],[27,1.2,.35],[30,.8,.5],[32,1.05,.4,.1],[34,.9,.65],[37,1.3,.75,.25],[39,.9,.3],[41,.7,.15],[44,.85,.25],[46,.65,.2],[50,.9,.4],[51,1.05,.65,.3],[54,.85,.4],[56,1.05,.5],[58,1.15,.7,.2],[60,.9,.4],[62,.85,.45],[63,1.1,.6],[65,.9,.5],[67,1.1,.8],[69,1.2,.9,.5],[73,1.05,.55],[75,1.15,.85],[77,1,.7],[79,1.15],[81,.75],[91,.95,.6,.2],[94,1.25,.9,.4],[96,1.1,.6],[97,1.2,.45],[99,1.05,.65],[102,1.3,.85],[103,1.05],[105,1.5,1.2],[108,1.55,1.25],[110,1.75,1.1],[111,1.85,1.3],[115,1.2,1.5],[116,1.85,1.55],[119,1.8],[121,1.7,1.4],[123,1.95,1.55],[124,1.8,1.6],[126,2.05,1.75,1.45],[128,1.7,1.2],[130,1.95,1.6,1.3],[132,1.85,1.4],[133,1.7,1.15],[138,1.55,1.3],[141,1.9,1.55],[143,1.85,1.3],[145,1.75,1.45],[146,1.9,1.5],[149,1.95,1.6],[152,1.85,1.5],[154,1.95,1.7,1.35],[156,1.55,1.25],[158,1.8,1.6,1.3],[161,1.7,1.4],
[261,1.9,1.5],[264,1.95,1.35],[265,1.7,1.2],[267,1.9,1.35],[269,1.65,1.1],[273,1.35,1.1],[277,1.3,1.05],[279,1.55,1.2],[283,1.5,1.25],[287,1.2,1],[291,1.2,.95],[293,1.05,.75],[295,1.2,.8,.55],[296,1.05,.7],[299,1.1,.7],[301,.95,.6],[304,1,.75,.55],[306,1.1,.85,.65],[308,.95,.65],[310,1.2,.9,.55],[312,1,.75],[315,1,.55],[316,.85,.4],[319,.95,.6,.3],[321,.8,.45,.1],[323,.9,.55,.1],[325,.85,.45,.15],[327,.7,.3],[329,.8,.4,.15],[331,.7,.3,.05],[333,.6,.2],[335,.8,.35],[337,.65,.15],[339,.8,.25],[341,.95,.45],[343,.8,.3],[344,.65,.2],[347,.55,.1],[349,.85,.4,.05]];

const acrAvgSample: number[][] = [[5.3,.34],[6.5,.25],[9.4,.47],[12.5,.56],[15,.62],[16.3,.47],[19.2,.3],[21.5,.53],[24.8,.73],[26.9,.65],[30.7,.73],[33.8,.63],[35.7,.62],[37.5,.76],[39.4,.62],[41.9,.36],[44.4,.22],[46.3,.25],[48.2,.46],[50.4,.78],[52.5,.6],[55,.65],[57.5,.81],[60,.53],[62.5,.52],[65,.62],[67.5,.81],[70.4,1.14],[73.2,.94],[75.7,1.02],[77.9,1.29],[79.4,1.05],[81.7,.88],[83.8,.53],[86.9,.37],[88.6,.21],[90.7,.36],[93.2,.73],[95.7,.88],[98.8,.97],[101.3,1.05],[103.8,1.26],[107,1.58],[110.1,1.43],[111.9,1.33],[115.1,1.3],[118.2,1.43],[121.3,1.64],[124.5,1.78],[127,1.8],[130.1,1.74],[133.8,1.74],[135.7,1.55],[138.8,1.3],[142.6,1.51],[145.7,1.36],[149.5,1.55],[154.5,1.7],[157.6,1.4],[161,1.7]];
const acrAvgSampleFall: number[][] = [[263,2.07],[264.6,2.07],[268.2,2.03],[270.1,1.93],[272,1.72],[273.7,1.62],[275.8,1.75],[278,1.87],[280.3,1.83],[282.2,1.87],[286,2.02],[288.6,1.9],[290.5,1.55],[291.2,1.35],[293.1,1.24],[295.3,1.43],[297.6,1.32],[299.5,1.35],[301.4,1.29],[304,1.23],[306.5,1.23],[309,1.27],[310.6,1.05],[312.9,.68],[314.8,.91],[317.4,1.27],[319.3,1],[321.2,.88],[323.5,1.1],[325.7,.98],[327.6,.82],[329.8,.47],[332.1,.65],[333.6,.99],[335.6,.71],[337.2,.41],[340.4,.65],[342.3,.56],[345.5,.47],[349.7,.36]];
const acrAvgEstimate: number[][] = [[5.3,.52],[7.3,.64],[8.1,.75],[9.8,.84],[10.6,.77],[11.9,.69],[16.3,.47],[19.4,.5],[23.2,.6],[28.2,.5],[30,.68],[33.2,.57],[34.4,.47],[35.7,.38],[36.9,.43],[40,.3],[45,.45],[46.9,.57],[49.4,.65],[51.3,.53],[53.8,.5],[56.3,.57],[58.2,.76],[60.7,.72],[65,.63],[66.3,.73],[69.4,.75],[70.7,.92],[73.8,1.11],[75.7,1.11],[77.6,1.04],[80.1,.86],[81.3,.71],[83,.5],[84.7,.37],[86.9,.27],[90.7,.37],[92.6,.43],[93.8,.62],[97.6,.66],[98.8,.63],[100.7,.72],[102,.95],[105,1.46],[108.2,1.45],[113.8,1.46],[110.1,1.37],[115.7,1.58],[118.8,1.55],[123.2,1.53],[127.6,1.46],[129.5,1.55],[133.8,1.86],[132.6,1.8],[134.5,1.75],[136.6,1.21],[139.5,1.04],[141.3,1.14],[142.3,1.27],[144.8,1.23],[143.8,1.36],[146.3,1.32],[148.2,1.17],[150.1,1.39],[153.2,1.77],[152,1.68],[155.1,1.52],[157,1.24],[159.1,1.33],[160.7,1.58],
[262.2,2.02],[264.3,2.1],[265.4,1.91],[266.6,1.84],[267.3,1.64],[268.4,1.45],[270.1,1.37],[272,1.29],[273.9,1.29],[274.3,1.36],[275.5,1.49],[276.5,1.64],[277.8,1.85],[280.3,2.02],[282.5,1.87],[283.3,1.8],[284.5,1.61],[285.8,1.53],[287.3,1.42],[289,1.25],[290.2,.97],[293.7,.93],[291.8,.86],[292.5,.81],[295,1.16],[296.9,1.21],[299.5,1.17],[302.7,1.14],[305.2,.95],[307.1,1.16],[309.5,1.32],[311,1.11],[314.8,1.05],[318.6,.95],[321.5,.78],[321.2,.91],[324.4,.85],[326.3,.82],[328.9,.86],[330.2,.69],[332.1,.56],[335.3,.49],[338.5,.5],[337.2,.72],[339.4,.86],[339.1,.79],[346.1,.76],[347.4,.86],[349.3,.86]];

const legendLabels = ["Sample", "Estimate", "Mov.avg.", "(sample)", "Mov.avg.", "(estimate)"];

const PINK = "#d8226e";
const BLUE = "#4a6ca9";
const INK = "#0c0c0c";
const GRID = "#b4b4b4";
const SANS = "'Noto Sans', sans-serif";
const SERIF = "'Liberation Serif', serif";
const PLUS = "path://M0 -10L0 10M-10 0L10 0";
const STAR = "path://M0 -10L0 10M-8.66 -5L8.66 5M-8.66 5L8.66 -5";

const expand = (rows: number[][]) => rows.flatMap(([d, ...vs]) => vs.map((v) => [d, v]));

const scatter = (data: number[][], idx: number, symbol: string, size: number, color: string, bw: number, z: number) => ({
  type: "scatter", xAxisIndex: idx, yAxisIndex: idx === 0 ? 0 : 1, data, symbol, symbolSize: size, silent: true, z,
  itemStyle: { color: "rgba(0,0,0,0)", borderColor: color, borderWidth: bw, opacity: 1 },
});
const avgLine = (data: number[][], idx: number, smooth: number) => ({
  type: "line", xAxisIndex: idx, yAxisIndex: idx === 0 ? 0 : 1, data, symbol: "none", smooth, silent: true, z: 6,
  lineStyle: { color: INK, width: 7 }, connectNulls: false,
});

const ln = (x1: number, y1: number, x2: number, y2: number, w = 4, color = "#111") => ({
  type: "line", z: 20, silent: true, shape: { x1, y1, x2, y2 }, style: { stroke: color, lineWidth: w },
});
const txt = (text: string, x: number, y: number, font: string, fill = "#111") => ({
  type: "text", z: 20, silent: true, x, y, style: { text, font, fill, verticalAlign: "middle", align: "left", lineHeight: 70 },
});

const legendFont = `72px ${SERIF}`;
const graphicEls = [
  ln(172, 150, 2964, 150, 4),
  ln(2964, 150, 2964, 1630, 5, "#222"),
  ln(172, 1526, 172, 1637, 6),
  ln(2964, 1738, 2964, 3442, 5, "#222"),
  ln(129, 1675, 212, 1648, 6), ln(129, 1717, 215, 1688, 6),
  ln(2920, 1678, 3006, 1650, 6), ln(2922, 1716, 3006, 1688, 6),
  ln(122, 32, 199, 32, 4),
  txt("T", 122, 76, `italic 120px ${SERIF}`),
  txt("in", 203, 102, `80px ${SERIF}`),
  ln(91, 1742, 239, 1742, 4, "#444"),
  txt("acr", 94, 1766, `112px ${SERIF}`),
  txt("*", 248, 1748, `76px ${SERIF}`, "#333"),
  { type: "rect", z: 18, silent: true, shape: { x: 1612, y: 2780, width: 380, height: 535 }, style: { fill: "#fff", stroke: "#111", lineWidth: 4 } },
  { type: "circle", z: 20, silent: true, shape: { cx: 1649, cy: 2833, r: 12 }, style: { fill: "none", stroke: "#222", lineWidth: 3 } },
  ln(1636, 2920, 1668, 2920, 5), ln(1652, 2904, 1652, 2936, 5),
  ln(1634, 3000, 1664, 3000, 4),
  ln(1649, 3160, 1649, 3186, 5), ln(1638, 3166, 1660, 3180, 5), ln(1638, 3180, 1660, 3166, 5),
  txt(legendLabels[0], 1695, 2828, legendFont),
  txt(legendLabels[1], 1702, 2914, legendFont),
  txt(legendLabels[2], 1695, 2994, legendFont),
  txt(legendLabels[3], 1686, 3079, legendFont),
  txt(legendLabels[4], 1695, 3165, legendFont),
  txt(legendLabels[5], 1666, 3250, legendFont),
];

const splitLine = { show: true, lineStyle: { color: GRID, width: 3 } };
const axisLine = { show: true, onZero: false, lineStyle: { color: "#000", width: 7 } };
const labelTone = { fontFamily: SANS, fontSize: 92, color: "#1a1a1a", lineHeight: 70 };

const option = {
  animation: false,
  backgroundColor: "#fff",
  grid: [
    { left: 172, right: 69, top: 150, height: 1376, containLabel: false },
    { left: 172, right: 69, top: 1828, height: 1611, containLabel: false },
  ],
  xAxis: [
    {
      type: "value", gridIndex: 0, min: 0, max: 365, position: "bottom", axisLine, splitLine,
      axisTick: { show: true, inside: true, length: 22, lineStyle: { color: "#000", width: 6 }, customValues: midMonthDays },
      axisLabel: {
        show: true, customValues: monthLabelDays, margin: 30, fontFamily: SANS, fontSize: 96, lineHeight: 70, color: "#1a1a10", hideOverlap: false,
        formatter: (v: number) => {
          let best = 0;
          monthLabelDays.forEach((d, i) => { if (Math.abs(d - v) < Math.abs(monthLabelDays[best] - v)) best = i; });
          return monthNames[best];
        },
      },
    },
    {
      type: "value", gridIndex: 0, min: 0, max: 365, position: "bottom", axisLine, splitLine: { show: false },
      axisTick: { show: true, inside: true, length: 22, lineStyle: { color: "#000", width: 6 }, customValues: monthStartDays },
      axisLabel: { show: false },
    },
    {
      type: "value", gridIndex: 1, min: 0, max: 365, position: "bottom", axisLine, splitLine,
      axisTick: { show: false, customValues: midMonthDays },
      axisLabel: { show: false },
    },
  ],
  yAxis: [
    {
      type: "value", gridIndex: 0, min: 10, max: 30, position: "left", axisLine, splitLine,
      axisTick: { show: true, inside: true, length: 20, lineStyle: { color: "#000", width: 4 }, customValues: tinTicks },
      axisLabel: { customValues: tinTicks, margin: 38, ...labelTone },
    },
    {
      type: "value", gridIndex: 1, min: -1, max: 3.115, position: "left", axisLine, splitLine,
      axisTick: { show: true, inside: true, length: 20, lineStyle: { color: "#000", width: 4 }, customValues: acrTicks },
      axisLabel: {
        customValues: acrTicks, margin: 38, ...labelTone,
        formatter: (v: number) => (v === -1 ? "{up|-1}" : v === 3 ? "{dn|3}" : String(v)),
        rich: {
          up: { ...labelTone, padding: [0, 0, 26, 0] },
          dn: { ...labelTone, padding: [22, 0, 0, 0] },
        },
      },
    },
  ],
  series: [
    scatter(expand(tinSample), 0, "circle", 35, PINK, 4.5, 3),
    scatter(expand(tinEstimate), 0, PLUS, 29, PINK, 5, 4),
    scatter(tinAvgEstimate, 0, STAR, 28, INK, 5, 5),
    avgLine(tinAvgSample, 0, 0.3),
    avgLine(tinAvgSampleFall, 0, 0.2),
    scatter(expand(acrSample), 2, "circle", 35, BLUE, 4, 3),
    scatter(expand(acrEstimate), 2, PLUS, 29, BLUE, 4.5, 4),
    scatter(acrAvgEstimate, 2, STAR, 28, INK, 5, 5),
    avgLine(acrAvgSample, 2, 0.2),
    avgLine(acrAvgSampleFall, 2, 0.15),
  ],
  graphic: { elements: graphicEls },
};

export default function App() {
  const ref = useRef<HTMLDivElement>(null);
  useEffect(() => {
    document.body.style.margin = "0";
    const chart = echarts.init(ref.current!, undefined, { renderer: "svg" });
    chart.setOption(option as any);
    return () => chart.dispose();
  }, []);
  return <div ref={ref} style={{ width: 3033, height: 3487, background: "#fff" }} />;
}
